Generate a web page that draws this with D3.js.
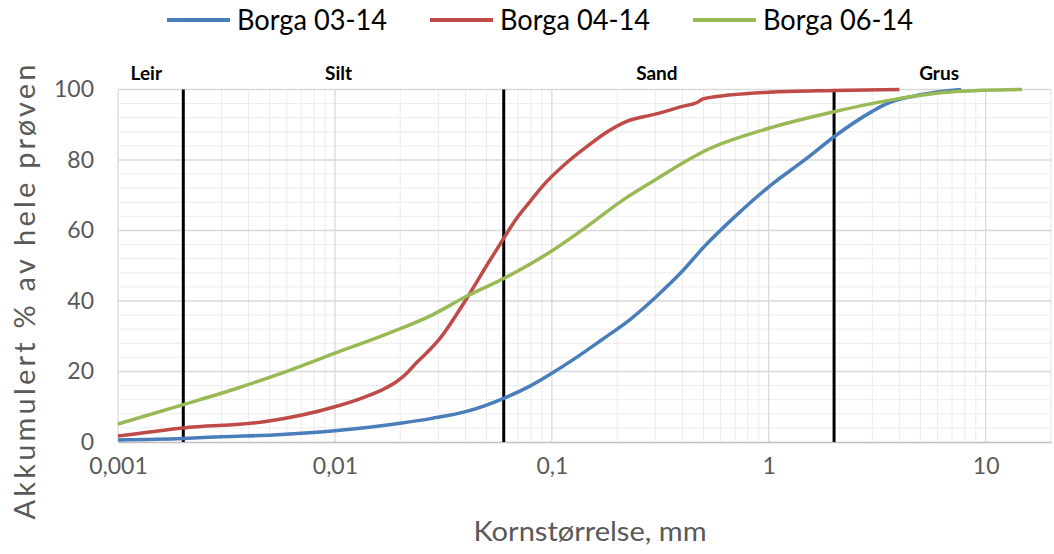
<!DOCTYPE html>
<html>
<head>
<meta charset="utf-8">
<script src="https://cdn.jsdelivr.net/npm/d3@7"></script>
<style>
  body { margin: 0; background: #fff; }
  svg { display: block; }
</style>
</head>
<body>
<svg id="chart" width="1054" height="554"></svg>
<script>
// Grain-size distribution curves (cumulative % passing vs. grain size in mm)
const seriesNames = ["Borga 03-14", "Borga 04-14", "Borga 06-14"];
const seriesColors = ["#4a7ebb", "#be4b48", "#98b954"];

const size0314 = [0.001, 0.002, 0.003, 0.0052, 0.01, 0.02, 0.028, 0.04, 0.06, 0.08, 0.1, 0.13, 0.17, 0.23, 0.3, 0.4, 0.5, 0.7, 1, 1.5, 2, 3, 3.5, 5, 7.7];
const pct0314  = [0.6, 1.0, 1.5, 2.0, 3.2, 5.3, 6.7, 8.6, 12.4, 16, 19.5, 24, 29, 34.8, 41, 48.5, 55.2, 64, 72.4, 80.5, 86.6, 93.8, 96, 98.5, 100];

const size0414 = [0.001, 0.002, 0.0048, 0.01, 0.0139, 0.0165, 0.0192, 0.0215, 0.0237, 0.027, 0.0303, 0.0401, 0.05, 0.06, 0.068, 0.08, 0.09, 0.121, 0.15, 0.176, 0.22, 0.3, 0.4, 0.47, 0.5, 1, 2, 4];
const pct0414  = [1.7, 4.0, 5.8, 10.0, 12.9, 14.8, 17.1, 19.6, 22.4, 25.8, 29.2, 40.3, 50, 57.8, 63, 68.5, 72.4, 80, 84.5, 87.6, 90.9, 93, 95.2, 96.4, 97.4, 99.2, 99.7, 100];

const size0614 = [0.001, 0.002, 0.0036, 0.0056, 0.0098, 0.0185, 0.028, 0.04, 0.06, 0.097, 0.145, 0.21, 0.3, 0.43, 0.5, 1, 2, 3.8, 7.3, 14.7];
const pct0614  = [5.1, 10.6, 15.4, 19.4, 25.0, 31.3, 36, 41.2, 46.4, 53.7, 61.1, 68.4, 74.4, 80.2, 82.4, 89, 93.7, 97.2, 99.4, 100];

const xTickValues = [0.001, 0.01, 0.1, 1, 10];
const xTickLabels = ["0,001", "0,01", "0,1", "1", "10"];
const yTickValues = [0, 20, 40, 60, 80, 100];

// Fraction boundaries (clay/silt, silt/sand, sand/gravel) and their labels
const boundarySizes = [0.002, 0.06, 2];
const zoneNames = ["Leir", "Silt", "Sand", "Grus"];
const zoneLabelSizes = [0.00135, 0.0104, 0.305, 6.1];

const xTitle = "Kornstørrelse, mm";
const yTitle = "Akkumulert % av hele prøven";

const series = [
  { name: seriesNames[0], color: seriesColors[0], pts: size0314.map((s, i) => [s, pct0314[i]]) },
  { name: seriesNames[1], color: seriesColors[1], pts: size0414.map((s, i) => [s, pct0414[i]]) },
  { name: seriesNames[2], color: seriesColors[2], pts: size0614.map((s, i) => [s, pct0614[i]]) }
];

const svg = d3.select("#chart");
const font = "Lato, 'Open Sans', sans-serif";
const grey = "#595959";

const x = d3.scaleLog().domain([0.001, 20]).range([118, 1051]);
const y = d3.scaleLinear().domain([0, 100]).range([442, 89.5]);

// Gridlines
const grid = svg.append("g");
const minorX = [];
for (let e = -3; e <= 1; e++) {
  for (let m = 2; m <= 9; m++) {
    const v = m * Math.pow(10, e);
    if (v <= 20) minorX.push(v);
  }
}
minorX.push(20);
grid.selectAll("line.mx").data(minorX).join("line")
  .attr("x1", d => x(d)).attr("x2", d => x(d))
  .attr("y1", y(0)).attr("y2", y(100))
  .attr("stroke", "#ececec").attr("stroke-width", 1);
const minorY = d3.range(4, 100, 4).filter(v => v % 20 !== 0);
grid.selectAll("line.my").data(minorY).join("line")
  .attr("x1", x.range()[0]).attr("x2", x.range()[1])
  .attr("y1", d => y(d)).attr("y2", d => y(d))
  .attr("stroke", "#ececec").attr("stroke-width", 1);
grid.selectAll("line.Mx").data(xTickValues).join("line")
  .attr("x1", d => x(d)).attr("x2", d => x(d))
  .attr("y1", y(0)).attr("y2", y(100))
  .attr("stroke", "#d9d9d9").attr("stroke-width", 1.3);
grid.selectAll("line.My").data(yTickValues.filter(v => v > 0)).join("line")
  .attr("x1", x.range()[0]).attr("x2", x.range()[1])
  .attr("y1", d => y(d)).attr("y2", d => y(d))
  .attr("stroke", "#d9d9d9").attr("stroke-width", 1.3);

// Axes
const xAxis = d3.axisBottom(x).tickValues(xTickValues)
  .tickFormat((d, i) => xTickLabels[i]).tickSize(0).tickPadding(16);
const gx = svg.append("g").attr("transform", `translate(0,${y(0)})`).call(xAxis);
gx.select(".domain").attr("stroke", "#bfbfbf").attr("stroke-width", 1.5);
gx.selectAll("text").attr("font-family", font).attr("font-size", 23).attr("fill", grey);

const yAxis = d3.axisLeft(y).tickValues(yTickValues).tickSize(0).tickPadding(24);
const gy = svg.append("g").attr("transform", `translate(${x.range()[0]},0)`).call(yAxis);
gy.select(".domain").remove();
gy.selectAll("text").attr("font-family", font).attr("font-size", 23).attr("fill", grey);

// Fraction boundary lines
svg.append("g").selectAll("line").data(boundarySizes).join("line")
  .attr("x1", d => x(d)).attr("x2", d => x(d))
  .attr("y1", y(0)).attr("y2", y(100))
  .attr("stroke", "#000").attr("stroke-width", 3);

// Curves
const line = d3.line().x(d => x(d[0])).y(d => y(d[1])).curve(d3.curveMonotoneX);
svg.append("g").selectAll("path").data(series).join("path")
  .attr("d", d => line(d.pts))
  .attr("fill", "none")
  .attr("stroke", d => d.color)
  .attr("stroke-width", 3.5)
  .attr("stroke-linejoin", "round");

// Fraction labels
svg.append("g").selectAll("text").data(zoneNames).join("text")
  .attr("x", (d, i) => x(zoneLabelSizes[i]))
  .attr("y", 80)
  .attr("text-anchor", "middle")
  .attr("font-family", font).attr("font-weight", "bold").attr("font-size", 19)
  .attr("fill", "#000")
  .text(d => d);

// Legend
const legendX = [167, 430, 693];
const legend = svg.append("g");
series.forEach((s, i) => {
  legend.append("line")
    .attr("x1", legendX[i]).attr("x2", legendX[i] + 63)
    .attr("y1", 20).attr("y2", 20)
    .attr("stroke", s.color).attr("stroke-width", 4);
  legend.append("text")
    .attr("x", legendX[i] + 70).attr("y", 30)
    .attr("font-family", font).attr("font-size", 29).attr("fill", "#000")
    .attr("textLength", 150).attr("lengthAdjust", "spacingAndGlyphs")
    .text(s.name);
});

// Axis titles
svg.append("text")
  .attr("x", 590).attr("y", 541)
  .attr("text-anchor", "middle")
  .attr("font-family", font).attr("font-size", 27).attr("fill", grey)
  .attr("textLength", 233).attr("lengthAdjust", "spacingAndGlyphs")
  .text(xTitle);

svg.append("text")
  .attr("transform", "translate(35,292) rotate(-90)")
  .attr("text-anchor", "middle")
  .attr("font-family", font).attr("font-size", 29).attr("fill", grey)
  .attr("textLength", 455).attr("lengthAdjust", "spacing")
  .text(yTitle);
</script>
</body>
</html>
